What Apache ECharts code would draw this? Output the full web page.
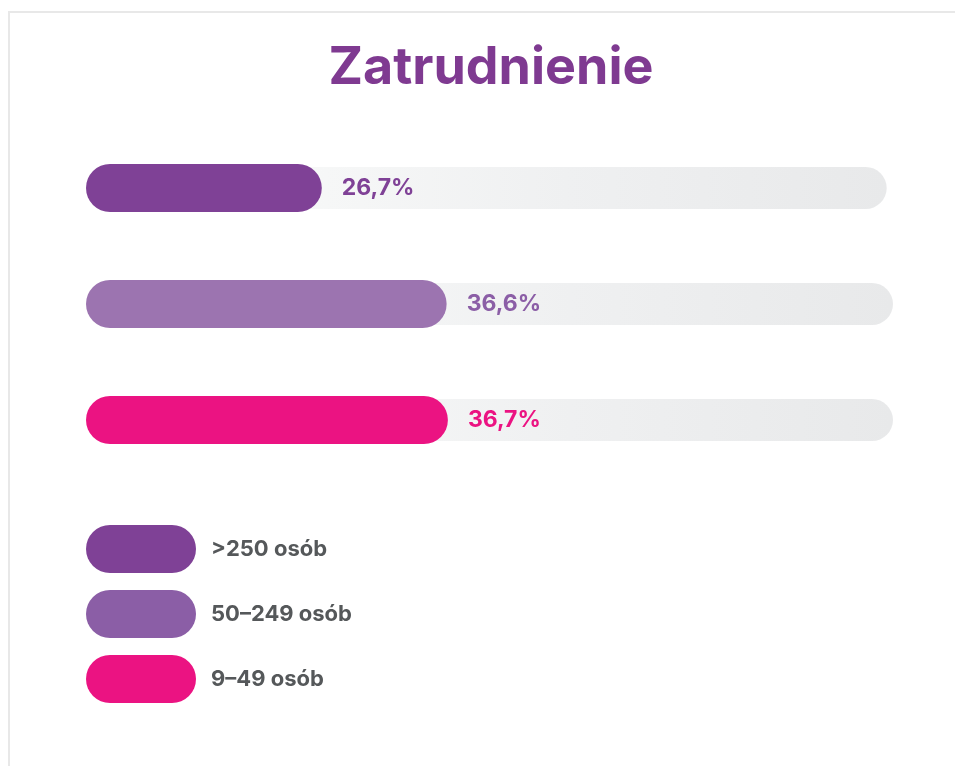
<!DOCTYPE html>
<html>
<head>
<meta charset="utf-8">
<script src="https://cdn.jsdelivr.net/npm/echarts@6/dist/echarts.min.js"></script>
<style>
  html, body { margin: 0; padding: 0; background: #fff; }
  #chart { width: 955px; height: 766px; }
</style>
</head>
<body>
<div id="chart"></div>
<script>
// dane
const categories = ['>250 osób', '50–249 osób', '9–49 osób'];
const values = [26.7, 36.6, 36.7];
const trackEnds = [71.5, 72, 72];
const barColors = ['#7f4196', '#9c74b0', '#eb1382'];
const legendColors = ['#7f4196', '#8b5ea6', '#eb1382'];
const labelColors = ['#7f4196', '#8b5ea6', '#eb1382'];

const chart = echarts.init(document.getElementById('chart'));

const fmt = v => v.toFixed(1).replace('.', ',') + '%';

// trzy serie w stosie, żeby legenda miała trzy pozycje
const barSeries = categories.map((name, i) => ({
  name: name,
  type: 'bar',
  stack: 'main',
  yAxisIndex: 1,
  barWidth: 48,
  data: values.map((v, j) => (j === i ? v : '-')),
  itemStyle: { color: barColors[i], borderRadius: 24 },
  label: {
    show: true,
    position: 'right',
    distance: 20,
    formatter: p => fmt(p.value),
    fontFamily: 'Inter',
    fontWeight: 'bold',
    fontSize: 23,
    color: labelColors[i]
  },
  emphasis: { disabled: true },
  z: 3
}));

const option = {
  animation: false,
  title: {
    text: 'Zatrudnienie',
    left: 486,
    textAlign: 'center',
    top: 37,
    textStyle: {
      fontFamily: 'Inter',
      fontWeight: 'bold',
      fontSize: 52,
      color: '#7f3a91'
    }
  },
  graphic: [
    { type: 'rect', shape: { x: 8, y: 11, width: 947, height: 2 }, style: { fill: '#e8e8e8' } },
    { type: 'rect', shape: { x: 8, y: 11, width: 2, height: 755 }, style: { fill: '#e8e8e8' } }
  ],
  legend: {
    orient: 'vertical',
    left: 86,
    top: 525,
    padding: 0,
    itemWidth: 110,
    itemHeight: 48,
    itemGap: 17,
    selectedMode: false,
    icon: 'path://M24,0 L86,0 A24,24 0 0 1 86,48 L24,48 A24,24 0 0 1 24,0 Z',
    data: categories.map((c, i) => ({ name: c, itemStyle: { color: legendColors[i] } })),
    textStyle: {
      fontFamily: 'Inter',
      fontWeight: 'bold',
      fontSize: 22,
      color: '#55585a',
      padding: [0, 0, 0, 10]
    }
  },
  grid: {
    left: 86,
    right: 62,
    top: 130,
    height: 348
  },
  xAxis: {
    type: 'value',
    min: 8,
    max: 72,
    show: false
  },
  yAxis: [
    { type: 'category', data: categories, inverse: true, show: false },
    { type: 'category', data: categories, inverse: true, show: false }
  ],
  series: [
    {
      name: 'tło',
      type: 'bar',
      yAxisIndex: 0,
      barWidth: 42,
      data: trackEnds,
      silent: true,
      itemStyle: {
        borderRadius: 21,
        color: new echarts.graphic.LinearGradient(0, 0, 1, 0, [
          { offset: 0, color: '#ffffff' },
          { offset: 0.3, color: '#f6f7f7' },
          { offset: 0.6, color: '#eff0f1' },
          { offset: 1, color: '#e8e9ea' }
        ])
      },
      z: 1
    },
    ...barSeries
  ]
};

chart.setOption(option);
</script>
</body>
</html>
